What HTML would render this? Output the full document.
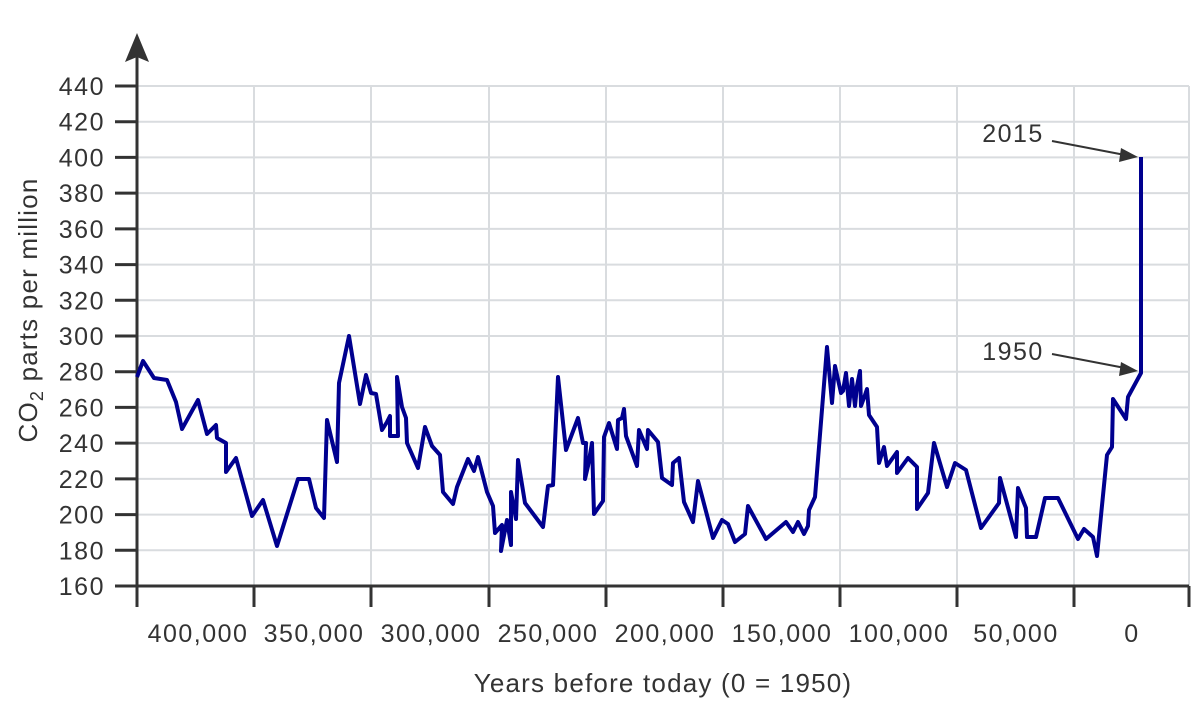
<!DOCTYPE html>
<html><head><meta charset="utf-8"><style>
html,body{margin:0;padding:0;background:#fff;}
svg{display:block;font-family:"Liberation Sans",sans-serif;}
</style></head><body>
<svg width="1200" height="724" viewBox="0 0 1200 724">
<g stroke="#d9dcdf" stroke-width="2">
<line x1="137" y1="86" x2="1189" y2="86"/><line x1="137" y1="121.7" x2="1189" y2="121.7"/><line x1="137" y1="157.4" x2="1189" y2="157.4"/><line x1="137" y1="193.1" x2="1189" y2="193.1"/><line x1="137" y1="228.9" x2="1189" y2="228.9"/><line x1="137" y1="264.6" x2="1189" y2="264.6"/><line x1="137" y1="300.3" x2="1189" y2="300.3"/><line x1="137" y1="336" x2="1189" y2="336"/><line x1="137" y1="371.7" x2="1189" y2="371.7"/><line x1="137" y1="407.4" x2="1189" y2="407.4"/><line x1="137" y1="443.1" x2="1189" y2="443.1"/><line x1="137" y1="478.9" x2="1189" y2="478.9"/><line x1="137" y1="514.6" x2="1189" y2="514.6"/><line x1="137" y1="550.3" x2="1189" y2="550.3"/>
<line x1="254" y1="86" x2="254" y2="586"/><line x1="371" y1="86" x2="371" y2="586"/><line x1="489" y1="86" x2="489" y2="586"/><line x1="606" y1="86" x2="606" y2="586"/><line x1="723" y1="86" x2="723" y2="586"/><line x1="840" y1="86" x2="840" y2="586"/><line x1="957" y1="86" x2="957" y2="586"/><line x1="1074" y1="86" x2="1074" y2="586"/><line x1="1189" y1="86" x2="1189" y2="586"/>
</g>
<g stroke="#333" stroke-width="3">
<line x1="137" y1="586" x2="1189" y2="586"/>
<line x1="137" y1="55" x2="137" y2="607"/>
<line x1="115" y1="86" x2="137" y2="86"/><line x1="115" y1="121.7" x2="137" y2="121.7"/><line x1="115" y1="157.4" x2="137" y2="157.4"/><line x1="115" y1="193.1" x2="137" y2="193.1"/><line x1="115" y1="228.9" x2="137" y2="228.9"/><line x1="115" y1="264.6" x2="137" y2="264.6"/><line x1="115" y1="300.3" x2="137" y2="300.3"/><line x1="115" y1="336" x2="137" y2="336"/><line x1="115" y1="371.7" x2="137" y2="371.7"/><line x1="115" y1="407.4" x2="137" y2="407.4"/><line x1="115" y1="443.1" x2="137" y2="443.1"/><line x1="115" y1="478.9" x2="137" y2="478.9"/><line x1="115" y1="514.6" x2="137" y2="514.6"/><line x1="115" y1="550.3" x2="137" y2="550.3"/><line x1="115" y1="586" x2="137" y2="586"/>
<line x1="254" y1="586" x2="254" y2="607"/><line x1="371" y1="586" x2="371" y2="607"/><line x1="489" y1="586" x2="489" y2="607"/><line x1="606" y1="586" x2="606" y2="607"/><line x1="723" y1="586" x2="723" y2="607"/><line x1="840" y1="586" x2="840" y2="607"/><line x1="957" y1="586" x2="957" y2="607"/><line x1="1074" y1="586" x2="1074" y2="607"/><line x1="1189" y1="586" x2="1189" y2="607"/>
</g>
<polygon points="137,33 125,62 137,57 149,62" fill="#333"/>
<g fill="#333" font-size="25" letter-spacing="1.5" text-anchor="end">
<text x="105" y="95">440</text><text x="105" y="130.7">420</text><text x="105" y="166.4">400</text><text x="105" y="202.1">380</text><text x="105" y="237.9">360</text><text x="105" y="273.6">340</text><text x="105" y="309.3">320</text><text x="105" y="345">300</text><text x="105" y="380.7">280</text><text x="105" y="416.4">260</text><text x="105" y="452.1">240</text><text x="105" y="487.9">220</text><text x="105" y="523.6">200</text><text x="105" y="559.3">180</text><text x="105" y="595">160</text>
</g>
<g fill="#333" font-size="25" letter-spacing="1.5" text-anchor="middle">
<text x="198" y="642">400,000</text><text x="314" y="642">350,000</text><text x="431" y="642">300,000</text><text x="548" y="642">250,000</text><text x="665" y="642">200,000</text><text x="782" y="642">150,000</text><text x="899" y="642">100,000</text><text x="1016" y="642">50,000</text><text x="1132" y="642">0</text>
</g>
<text x="663" y="692" fill="#333" font-size="26" letter-spacing="1.2" text-anchor="middle">Years before today (0 = 1950)</text>
<text transform="translate(37,310) rotate(-90)" fill="#333" font-size="26" letter-spacing="1.2" text-anchor="middle">CO<tspan font-size="18" dy="6">2</tspan><tspan dy="-6"> parts per million</tspan></text>
<polyline fill="none" stroke="#00008f" stroke-width="4" stroke-linejoin="round" points="137,377 143,361 154,378 167,380 176,402 182,429 198,400 207,434 216,425 217,438 226,443 226,472 236,458 252,516 263,500 277,546 298,479 309,479 316,508 324,518 327,420 337,462 339,383 349,336 360,404 366,375 371,393 376,394 382,430 387,422 390,416 390,436 398,436 397,377 402,407 406,418 407,443 418,468 425,427 432,446 440,455 443,492 453,504 457,487 468,459 474,471 478,457 487,492 493,506 495,533 502,525 501,551 507,520 511,545 511,492 516,519 518,460 525,503 543,527 548,486 553,485 558,377 566,450 578,418 583,443 586,443 585,479 588,466 592,443 594,514 603,501 604,437 609,423 617,449 618,420 622,418 624,409 626,436 637,466 639,430 647,449 648,430 658,442 662,478 672,485 673,463 679,458 684,502 693,522 698,481 713,538 722,520 728,524 735,542 745,534 748,506 766,539 786,522 793,532 798,522 804,534 808,526 809,510 815,497 827,347 832,403 835,366 841,393 843,391 846,373 849,406 852,379 855,406 857,386 860,371 861,406 865,395 867,389 869,415 877,427 879,463 884,447 887,466 897,452 897,473 908,458 917,467 917,509 928,493 934,443 947,487 955,463 966,470 981,528 999,503 1000,478 1016,537 1018,488 1026,508 1027,537 1036,537 1045,498 1058,498 1078,539 1084,529 1093,537 1097,556 1107,455 1112,447 1113,399 1126,419 1128,397 1141,373 1141,157"/>
<g stroke="#333" stroke-width="2"><line x1="1052" y1="141" x2="1125" y2="155"/><line x1="1052" y1="354" x2="1125" y2="368"/></g>
<polygon points="1138,157 1121,148 1119,162" fill="#333"/>
<polygon points="1138,371 1121,362 1119,376" fill="#333"/>
<g fill="#333" font-size="25" letter-spacing="1.5" text-anchor="middle"><text x="1013" y="142">2015</text><text x="1013" y="360">1950</text></g>
</svg>
</body></html>
